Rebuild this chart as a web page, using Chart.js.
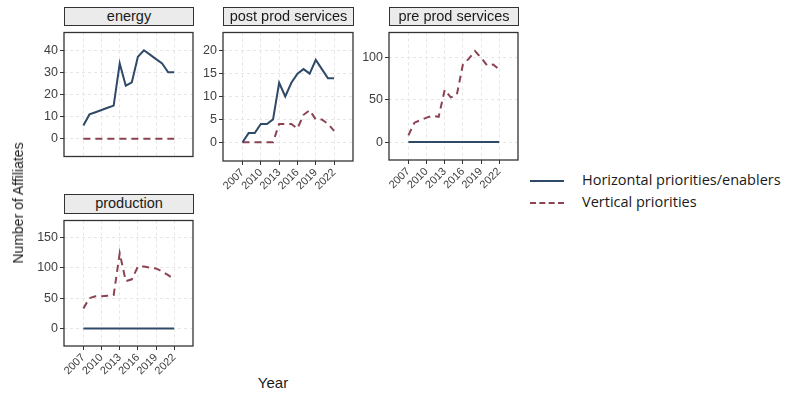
<!DOCTYPE html>
<html>
<head>
<meta charset="utf-8">
<script src="https://cdn.jsdelivr.net/npm/chart.js@4"></script>
<style>
  body { margin: 0; background: #fff; width: 787px; height: 398px; position: relative; overflow: hidden; font-family: "Liberation Sans", Arial, sans-serif; }
  canvas { position: absolute; }
  .strip { position: absolute; background: #ebebeb; border: 1.3px solid #333; box-sizing: border-box; font-size: 14.5px; color: #1a1a1a; text-align: center; line-height: 17px; }
  .ytitle { position: absolute; left: 18px; top: 203px; transform: translate(-50%, -50%) rotate(-90deg); font-size: 14px; color: #1a1a1a; white-space: nowrap; }
  .xtitle { position: absolute; left: 273px; top: 374px; font-size: 15px; color: #1a1a1a; transform: translateX(-50%); }
  .legend { position: absolute; left: 530px; font-family: "Open Sans", sans-serif; font-size: 14.5px; color: #1a1a1a; white-space: nowrap; }
  .legend span { display: inline-block; width: 34px; margin-right: 18px; vertical-align: middle; }
</style>
</head>
<body>
<canvas id="energy"></canvas>
<canvas id="post"></canvas>
<canvas id="pre"></canvas>
<canvas id="prod"></canvas>

<div class="strip" style="left:64px;top:7px;width:130px;height:19px;">energy</div>
<div class="strip" style="left:223px;top:7px;width:131px;height:19px;">post prod services</div>
<div class="strip" style="left:389px;top:7px;width:130px;height:19px;">pre prod services</div>
<div class="strip" style="left:64px;top:194px;width:130px;height:20px;">production</div>

<div class="ytitle">Number of Affiliates</div>
<div class="xtitle">Year</div>

<div class="legend" style="top:170px;"><span style="border-top:2px solid #2f4a68;"></span>Horizontal priorities/enablers</div>
<div class="legend" style="top:192px;"><span style="border-top:2px dashed #8b4352;"></span>Vertical priorities</div>

<script>
const years = [2007, 2008, 2009, 2010, 2011, 2012, 2013, 2014, 2015, 2016, 2017, 2018, 2019, 2020, 2021, 2022];
const xTicks = [2007, 2010, 2013, 2016, 2019, 2022];

const energyHoriz = [6, 11, 12, 13, 14, 15, 34, 24, 25.5, 37, 40, 38, 36, 34, 30, 30];
const energyVert = [0, 0, 0, 0, 0, 0, 0, 0, 0, 0, 0, 0, 0, 0, 0, 0];
const energyTicks = [0, 10, 20, 30, 40];

const postHoriz = [0, 2, 2, 4, 4, 5, 13, 10, 13, 15, 16, 15, 18, 16, 14, 14];
const postVert = [0, 0, 0, 0, 0, 0, 4, 4, 4, 3, 6, 7, 5, 5, 4, 2.5];
const postTicks = [0, 5, 10, 15, 20];

const preHoriz = [0, 0, 0, 0, 0, 0, 0, 0, 0, 0, 0, 0, 0, 0, 0, 0];
const preVert = [8, 23, 26, 29, 31, 30, 62, 53, 56, 92, 99, 108, 100, 91, 92, 86];
const preTicks = [0, 50, 100];

const prodHoriz = [0, 0, 0, 0, 0, 0, 0, 0, 0, 0, 0, 0, 0, 0, 0, 0];
const prodVert = [33, 50, 53, 53, 54, 55, 124, 78, 81, 102, 102, 100, 99, 94, 88, 81];
const prodTicks = [0, 50, 100, 150];

const blue = '#2f4a68';
const red = '#8b4352';

// draws the dark frame round each panel
const panelBox = {
  id: 'panelBox',
  afterDraw(chart) {
    const a = chart.chartArea;
    const ctx = chart.ctx;
    ctx.save();
    ctx.strokeStyle = '#333';
    ctx.lineWidth = 1.3;
    ctx.strokeRect(a.left, a.top, a.right - a.left, a.bottom - a.top);
    ctx.restore();
  }
};

function makePanel(id, L, T, R, B, showX, yMin, yMax, yTicks, horiz, vert) {
  const yw = 50, xh = showX ? 50 : 6;
  const canvas = document.getElementById(id);
  canvas.style.left = (L - yw) + 'px';
  canvas.style.top = (T - 2) + 'px';
  canvas.width = yw + (R - L) + 4;
  canvas.height = 2 + (B - T) + xh;
  canvas.style.width = canvas.width + 'px';
  canvas.style.height = canvas.height + 'px';

  new Chart(canvas.getContext('2d'), {
    type: 'line',
    data: {
      datasets: [{
        label: 'Horizontal priorities/enablers',
        data: years.map((y, i) => ({ x: y, y: horiz[i] })),
        borderColor: blue,
        borderWidth: 2,
        pointRadius: 0,
        tension: 0
      }, {
        label: 'Vertical priorities',
        data: years.map((y, i) => ({ x: y, y: vert[i] })),
        borderColor: red,
        borderWidth: 2,
        borderDash: [7, 5],
        pointRadius: 0,
        tension: 0
      }]
    },
    options: {
      responsive: false,
      animation: false,
      layout: { padding: { top: 2, right: 4, left: 0, bottom: 0 } },
      plugins: {
        legend: { display: false },
        tooltip: { enabled: false }
      },
      scales: {
        x: {
          type: 'linear',
          min: 2003.8,
          max: 2025.1,
          afterBuildTicks: function(scale) {
            scale.ticks = xTicks.map(v => ({ value: v }));
          },
          afterFit: function(scale) {
            scale.height = xh;
          },
          border: { display: false, dash: [3, 3] },
          grid: {
            color: '#e6e6e6',
            drawTicks: showX,
            tickLength: 4,
            tickColor: '#333',
            tickBorderDash: []
          },
          ticks: {
            display: showX,
            minRotation: 45,
            maxRotation: 45,
            padding: 1,
            color: '#404040',
            font: { family: 'Liberation Sans', size: 11 },
            callback: function(value) { return String(value); }
          }
        },
        y: {
          min: yMin,
          max: yMax,
          afterBuildTicks: function(scale) {
            scale.ticks = yTicks.map(v => ({ value: v }));
          },
          afterFit: function(scale) {
            scale.width = yw;
          },
          border: { display: false, dash: [3, 3] },
          grid: {
            color: '#e6e6e6',
            drawTicks: true,
            tickLength: 4,
            tickColor: '#333',
            tickBorderDash: []
          },
          ticks: {
            padding: 2,
            color: '#404040',
            font: { family: 'Liberation Sans', size: 12.5 }
          }
        }
      }
    },
    plugins: [panelBox]
  });
}

makePanel('energy', 64, 25, 193, 160, false, -8, 48, energyTicks, energyHoriz, energyVert);
makePanel('post', 223, 25, 353, 161, true, -4.1, 24, postTicks, postHoriz, postVert);
makePanel('pre', 389, 25, 518, 160, true, -21.3, 130, preTicks, preHoriz, preVert);
makePanel('prod', 64, 213, 193, 346, true, -29, 178, prodTicks, prodHoriz, prodVert);
</script>
</body>
</html>
